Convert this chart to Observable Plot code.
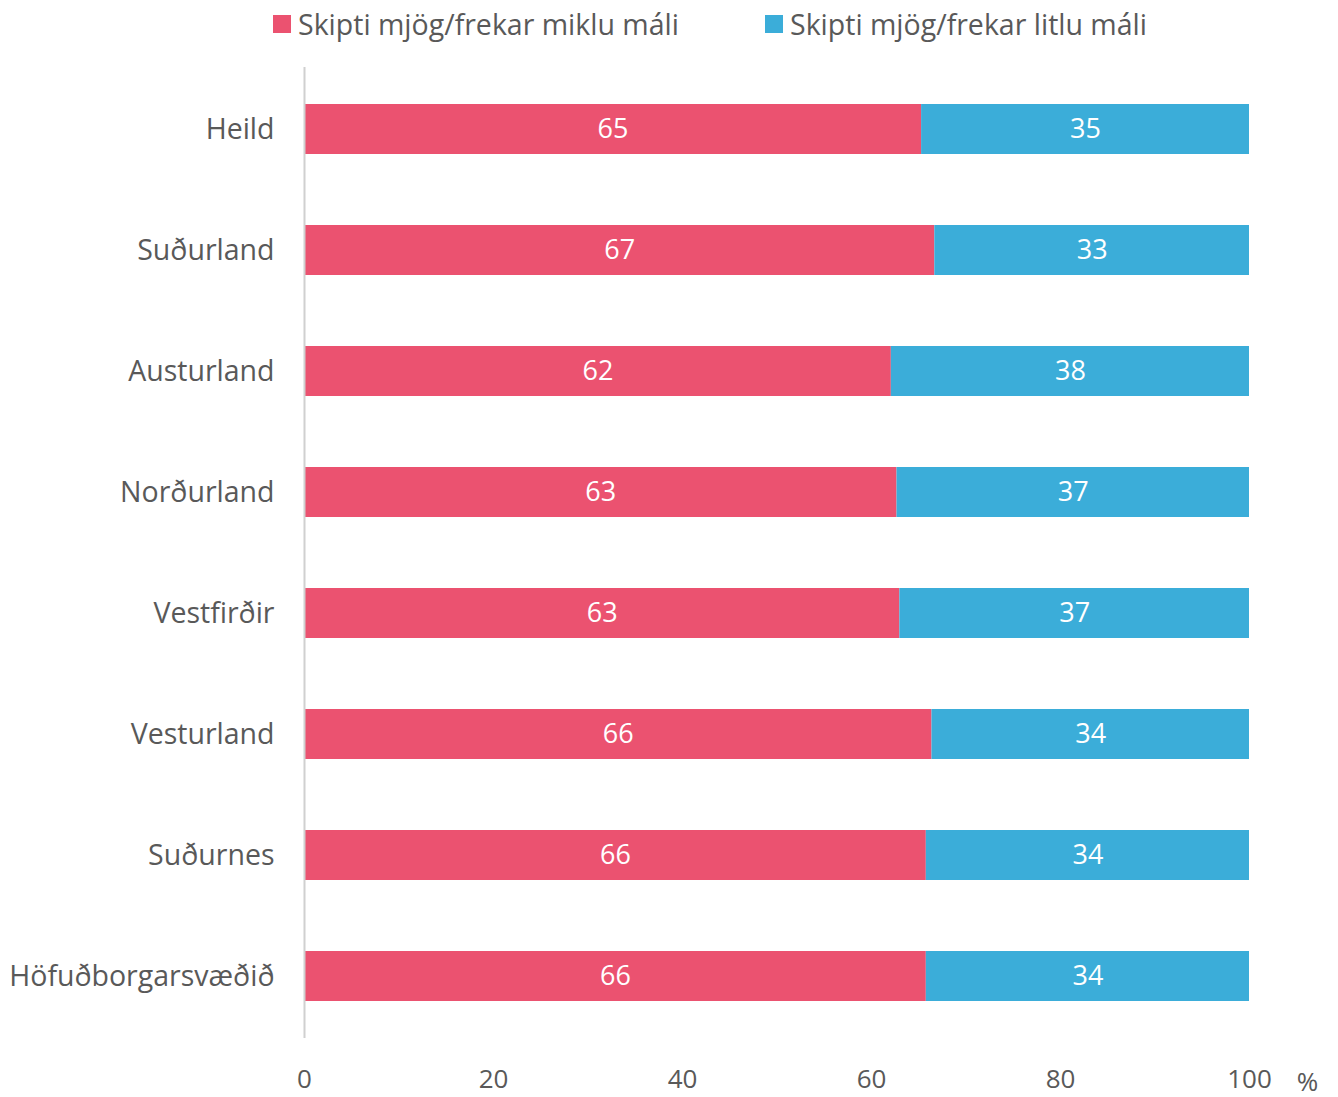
<!DOCTYPE html>
<html>
<head>
<meta charset="utf-8">
<script src="https://cdn.jsdelivr.net/npm/d3@7"></script>
<script src="https://cdn.jsdelivr.net/npm/@observablehq/plot@0.6"></script>
<style>
  body { margin: 0; background: #fff; font-family: "Open Sans", sans-serif; }
  #legend { position: relative; height: 44px; width: 1338px; color: #595959; font-size: 28.5px; }
  .item { position: absolute; top: 5px; display: flex; align-items: center; white-space: nowrap; }
  .sw { width: 18px; height: 18px; margin-right: 7px; }
</style>
</head>
<body>
<div id="legend"></div>
<div id="chart"></div>
<script>
const regions = ["Heild", "Suðurland", "Austurland", "Norðurland", "Vestfirðir", "Vesturland", "Suðurnes", "Höfuðborgarsvæðið"];
const seriesNames = ["Skipti mjög/frekar miklu máli", "Skipti mjög/frekar litlu máli"];
const colors = ["#EB5270", "#3BADD9"];
const miklu = [65.3, 66.7, 62.1, 62.7, 63.0, 66.4, 65.8, 65.8];
const litlu = [34.7, 33.3, 37.9, 37.3, 37.0, 33.6, 34.2, 34.2];
const mikluLabels = [65, 67, 62, 63, 63, 66, 66, 66];
const litluLabels = [35, 33, 38, 37, 37, 34, 34, 34];
const xTicks = [0, 20, 40, 60, 80, 100];

const data = [];
regions.forEach((r, i) => {
  data.push({region: r, series: seriesNames[0], value: miklu[i], label: mikluLabels[i]});
  data.push({region: r, series: seriesNames[1], value: litlu[i], label: litluLabels[i]});
});

// legend
const legend = document.getElementById("legend");
const legendX = [273, 765];
seriesNames.forEach((s, i) => {
  const it = document.createElement("div");
  it.className = "item";
  it.style.left = legendX[i] + "px";
  it.innerHTML = `<span class="sw" style="background:${colors[i]}"></span><span>${s}</span>`;
  legend.appendChild(it);
});

const chart = Plot.plot({
  width: 1338,
  height: 1053,
  marginLeft: 304,
  marginRight: 89,
  marginTop: 23,
  marginBottom: 59,
  style: {fontFamily: "Open Sans, sans-serif", fontSize: "26px", color: "#595959", background: "#fff", overflow: "visible"},
  x: {domain: [0, 100], ticks: xTicks, tickSize: 0, tickPadding: 31, label: null},
  y: {domain: regions, paddingInner: 0.59, paddingOuter: 0.295, tickSize: 0, tickPadding: 30, label: null},
  color: {domain: seriesNames, range: colors},
  marks: [
    Plot.barX(data, Plot.stackX({x: "value", y: "region", fill: "series", order: null})),
    Plot.textX(data, Plot.stackX({x: "value", y: "region", z: "series", order: null, text: "label", fill: "white", fontSize: 27})),
    Plot.ruleX([0], {stroke: "#d0d0d0", strokeWidth: 2}),
    Plot.text(["%"], {frameAnchor: "bottom-right", dx: 58, dy: 52, fill: "#595959", fontSize: 26, textAnchor: "middle"})
  ]
});
chart.querySelectorAll("g[aria-label='y-axis tick label']").forEach(el => el.setAttribute("font-size", "28.5"));
document.getElementById("chart").appendChild(chart);
</script>
</body>
</html>
